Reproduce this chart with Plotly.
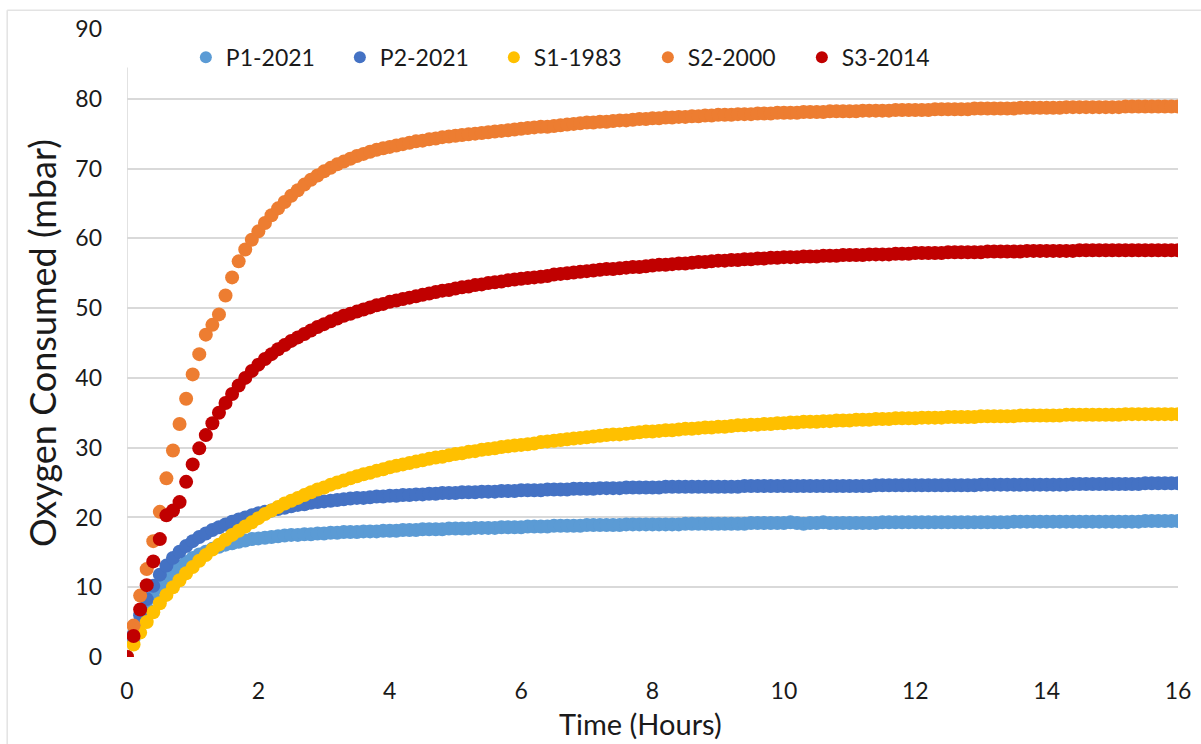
import plotly.graph_objects as go

# Time axis: one reading every 0.1 hour from 0 to 16 h
hours = [round(i * 0.1, 1) for i in range(161)]

series_names = ["P1-2021", "P2-2021", "S1-1983", "S2-2000", "S3-2014"]

p1_2021 = [
    0, 2.6, 5.0, 7.0, 8.6, 10.0, 11.1, 12.1, 12.9, 13.6,
    14.2, 14.7, 15.1, 15.5, 15.8, 16.1, 16.3, 16.5, 16.7, 16.9,
    17.0, 17.1, 17.2, 17.3, 17.4, 17.5, 17.5, 17.6, 17.6, 17.7,
    17.7, 17.8, 17.8, 17.9, 17.9, 17.9, 18.0, 18.0, 18.0, 18.1,
    18.1, 18.1, 18.2, 18.2, 18.2, 18.3, 18.3, 18.3, 18.3, 18.4,
    18.4, 18.4, 18.4, 18.5, 18.5, 18.5, 18.5, 18.6, 18.6, 18.6,
    18.6, 18.7, 18.7, 18.7, 18.7, 18.8, 18.8, 18.8, 18.8, 18.8,
    18.9, 18.9, 18.9, 18.9, 18.9, 18.9, 19.0, 19.0, 19.0, 19.0,
    19.0, 19.0, 19.0, 19.0, 19.0, 19.1, 19.1, 19.1, 19.1, 19.1,
    19.1, 19.1, 19.1, 19.1, 19.1, 19.2, 19.2, 19.2, 19.2, 19.2,
    19.2, 19.3, 19.2, 19.1, 19.2, 19.2, 19.3, 19.2, 19.2, 19.2,
    19.2, 19.2, 19.2, 19.2, 19.2, 19.3, 19.3, 19.3, 19.3, 19.3,
    19.3, 19.3, 19.3, 19.3, 19.3, 19.3, 19.3, 19.3, 19.3, 19.3,
    19.3, 19.3, 19.3, 19.3, 19.3, 19.4, 19.4, 19.4, 19.4, 19.4,
    19.4, 19.4, 19.4, 19.4, 19.4, 19.4, 19.4, 19.4, 19.4, 19.4,
    19.4, 19.4, 19.4, 19.4, 19.4, 19.5, 19.5, 19.5, 19.5, 19.5,
    19.5,
]

p2_2021 = [
    0, 3.2, 6.0, 8.3, 10.2, 11.8, 13.1, 14.2, 15.1, 15.9,
    16.6, 17.2, 17.7, 18.2, 18.6, 19.0, 19.4, 19.7, 20.0, 20.3,
    20.6, 20.8, 21.0, 21.2, 21.4, 21.6, 21.8, 21.9, 22.1, 22.2,
    22.3, 22.4, 22.5, 22.6, 22.7, 22.8, 22.8, 22.9, 23.0, 23.0,
    23.1, 23.1, 23.2, 23.2, 23.3, 23.3, 23.4, 23.4, 23.5, 23.5,
    23.5, 23.6, 23.6, 23.6, 23.7, 23.7, 23.7, 23.8, 23.8, 23.8,
    23.9, 23.9, 23.9, 23.9, 24.0, 24.0, 24.0, 24.0, 24.1, 24.1,
    24.1, 24.1, 24.2, 24.2, 24.2, 24.2, 24.3, 24.3, 24.3, 24.3,
    24.3, 24.3, 24.4, 24.4, 24.4, 24.4, 24.4, 24.4, 24.4, 24.4,
    24.4, 24.4, 24.4, 24.4, 24.5, 24.5, 24.5, 24.5, 24.5, 24.5,
    24.5, 24.5, 24.5, 24.5, 24.5, 24.5, 24.5, 24.5, 24.5, 24.5,
    24.5, 24.5, 24.5, 24.5, 24.6, 24.6, 24.6, 24.6, 24.6, 24.6,
    24.6, 24.6, 24.6, 24.6, 24.6, 24.6, 24.6, 24.6, 24.6, 24.6,
    24.7, 24.7, 24.7, 24.7, 24.7, 24.7, 24.7, 24.7, 24.7, 24.7,
    24.7, 24.7, 24.7, 24.7, 24.8, 24.8, 24.8, 24.8, 24.8, 24.8,
    24.8, 24.8, 24.8, 24.8, 24.8, 24.9, 24.9, 24.9, 24.9, 24.9,
    24.9,
]

s1_1983 = [
    0, 1.8, 3.5, 5.0, 6.4, 7.7, 8.9, 10.0, 11.0, 12.0,
    12.9, 13.8, 14.6, 15.4, 16.1, 16.8, 17.5, 18.1, 18.7, 19.3,
    19.9, 20.5, 21.0, 21.5, 22.0, 22.4, 22.8, 23.2, 23.6, 24.0,
    24.3, 24.7, 25.0, 25.3, 25.6, 25.9, 26.2, 26.4, 26.7, 26.9,
    27.2, 27.4, 27.6, 27.8, 28.0, 28.2, 28.4, 28.6, 28.7, 28.9,
    29.1, 29.2, 29.4, 29.5, 29.7, 29.8, 29.9, 30.1, 30.2, 30.3,
    30.4, 30.5, 30.6, 30.8, 30.9, 31.0, 31.1, 31.2, 31.3, 31.4,
    31.5, 31.6, 31.7, 31.8, 31.9, 31.9, 32.0, 32.1, 32.2, 32.3,
    32.3, 32.4, 32.5, 32.5, 32.6, 32.7, 32.7, 32.8, 32.9, 32.9,
    33.0, 33.0, 33.1, 33.2, 33.2, 33.3, 33.3, 33.4, 33.4, 33.5,
    33.5, 33.6, 33.6, 33.7, 33.7, 33.7, 33.8, 33.8, 33.9, 33.9,
    33.9, 34.0, 34.0, 34.0, 34.1, 34.1, 34.1, 34.2, 34.2, 34.2,
    34.2, 34.3, 34.3, 34.3, 34.3, 34.4, 34.4, 34.4, 34.4, 34.4,
    34.5, 34.5, 34.5, 34.5, 34.5, 34.5, 34.6, 34.6, 34.6, 34.6,
    34.6, 34.6, 34.6, 34.7, 34.7, 34.7, 34.7, 34.7, 34.7, 34.7,
    34.7, 34.7, 34.8, 34.8, 34.8, 34.8, 34.8, 34.8, 34.8, 34.8,
    34.8,
]

s2_2000 = [
    0, 4.5, 8.8, 12.6, 16.6, 20.8, 25.6, 29.6, 33.4, 37.0,
    40.5, 43.4, 46.2, 47.6, 49.1, 51.8, 54.4, 56.7, 58.4, 59.8,
    61.0, 62.2, 63.3, 64.3, 65.2, 66.1, 66.9, 67.7, 68.4, 69.0,
    69.6, 70.1, 70.6, 71.0, 71.4, 71.8, 72.1, 72.4, 72.7, 72.9,
    73.1, 73.3, 73.5, 73.7, 73.9, 74.0, 74.2, 74.3, 74.5, 74.6,
    74.7, 74.8, 74.9, 75.0, 75.1, 75.2, 75.3, 75.4, 75.5, 75.6,
    75.7, 75.8, 75.9, 76.0, 76.0, 76.1, 76.2, 76.3, 76.4, 76.5,
    76.6, 76.6, 76.7, 76.7, 76.8, 76.9, 76.9, 77.0, 77.1, 77.1,
    77.2, 77.2, 77.3, 77.3, 77.4, 77.4, 77.5, 77.5, 77.6, 77.6,
    77.7, 77.7, 77.7, 77.8, 77.8, 77.8, 77.9, 77.9, 77.9, 78.0,
    78.0, 78.0, 78.0, 78.1, 78.1, 78.1, 78.1, 78.2, 78.2, 78.2,
    78.2, 78.2, 78.3, 78.3, 78.3, 78.3, 78.3, 78.4, 78.4, 78.4,
    78.4, 78.4, 78.4, 78.5, 78.5, 78.5, 78.5, 78.5, 78.5, 78.6,
    78.6, 78.6, 78.6, 78.6, 78.6, 78.6, 78.7, 78.7, 78.7, 78.7,
    78.7, 78.7, 78.7, 78.8, 78.8, 78.8, 78.8, 78.8, 78.8, 78.8,
    78.8, 78.8, 78.9, 78.9, 78.9, 78.9, 78.9, 78.9, 78.9, 78.9,
    78.9,
]

s3_2014 = [
    0, 3.0, 6.8, 10.3, 13.7, 16.9, 20.3, 21.0, 22.2, 25.1,
    27.6, 29.9, 31.8, 33.5, 35.0, 36.4, 37.7, 38.9, 40.0, 41.0,
    41.9, 42.7, 43.4, 44.1, 44.7, 45.3, 45.8, 46.3, 46.8, 47.3,
    47.7, 48.1, 48.5, 48.9, 49.2, 49.5, 49.8, 50.1, 50.4, 50.6,
    50.9, 51.1, 51.3, 51.5, 51.7, 51.9, 52.1, 52.3, 52.5, 52.6,
    52.8, 53.0, 53.1, 53.3, 53.4, 53.6, 53.7, 53.8, 54.0, 54.1,
    54.2, 54.3, 54.4, 54.5, 54.6, 54.8, 54.9, 55.0, 55.1, 55.2,
    55.3, 55.4, 55.5, 55.6, 55.6, 55.7, 55.8, 55.9, 55.9, 56.0,
    56.1, 56.2, 56.2, 56.3, 56.4, 56.4, 56.5, 56.6, 56.6, 56.7,
    56.8, 56.8, 56.9, 56.9, 57.0, 57.0, 57.1, 57.1, 57.2, 57.2,
    57.3, 57.3, 57.3, 57.4, 57.4, 57.4, 57.5, 57.5, 57.5, 57.6,
    57.6, 57.6, 57.6, 57.7, 57.7, 57.7, 57.7, 57.8, 57.8, 57.8,
    57.9, 57.9, 57.9, 57.9, 57.9, 58.0, 58.0, 58.0, 58.0, 58.0,
    58.0, 58.1, 58.1, 58.1, 58.1, 58.1, 58.1, 58.2, 58.2, 58.2,
    58.2, 58.2, 58.2, 58.2, 58.2, 58.3, 58.3, 58.3, 58.3, 58.3,
    58.3, 58.3, 58.3, 58.3, 58.3, 58.3, 58.3, 58.3, 58.3, 58.3,
    58.3,
]

series_values = [p1_2021, p2_2021, s1_1983, s2_2000, s3_2014]
series_colors = ["#5B9BD5", "#4472C4", "#FFC000", "#ED7D31", "#C00000"]

x_ticks = [0, 2, 4, 6, 8, 10, 12, 14, 16]
y_ticks = [0, 10, 20, 30, 40, 50, 60, 70, 80, 90]
x_title = "Time (Hours)"
y_title = "Oxygen Consumed (mbar)"

FONT = "Lato, Carlito, Calibri, 'Open Sans', sans-serif"
TEXT = "#1a1a1a"
GRID = "#d9d9d9"

fig = go.Figure()
for name, vals, col in zip(series_names, series_values, series_colors):
    fig.add_trace(go.Scatter(
        x=hours, y=vals, name=name, mode="markers",
        marker=dict(size=14, color=col, line=dict(width=0)),
    ))

fig.update_layout(
    width=1201, height=744,
    margin=dict(l=127, r=23, t=29, b=87),
    paper_bgcolor="white", plot_bgcolor="white",
    font=dict(family=FONT, color=TEXT),
    showlegend=True,
    legend=dict(
        orientation="h", x=0.056, xanchor="left", y=0.955, yanchor="middle",
        font=dict(size=23, family=FONT, color=TEXT),
        entrywidth=109, entrywidthmode="pixels",
        itemsizing="constant", bgcolor="rgba(255,255,255,0)",
    ),
    xaxis=dict(
        range=[0, 16], tickvals=x_ticks, ticktext=[str(v) for v in x_ticks],
        showgrid=False, zeroline=False, showline=False, ticks="",
        automargin=False,
        tickfont=dict(size=23, family=FONT, color=TEXT),
        ticklabelstandoff=18,
    ),
    yaxis=dict(
        range=[0, 90], tickvals=y_ticks, ticktext=[str(v) for v in y_ticks],
        showgrid=True, gridcolor=GRID, gridwidth=1.5,
        zeroline=False, showline=False, ticks="",
        automargin=False,
        tickfont=dict(size=23, family=FONT, color=TEXT),
        ticklabelstandoff=24,
        title=dict(text=y_title, font=dict(size=36, family=FONT, color=TEXT), standoff=7),
    ),
    annotations=[
        dict(text=x_title, xref="paper", yref="paper", x=0.489, y=-0.1051,
             xanchor="center", yanchor="middle", showarrow=False,
             font=dict(size=29, family=FONT, color=TEXT)),
    ],
    shapes=[
        # left vertical axis line (stops below the legend band)
        dict(type="line", xref="x", yref="y", x0=0, x1=0, y0=0, y1=84.5,
             line=dict(color=GRID, width=1.5), layer="below"),
        # faint outer frame of the chart image
        dict(type="line", xref="paper", yref="paper", x0=-0.114, x1=1.03, y0=1.030, y1=1.030,
             line=dict(color="#e3e3e3", width=1.5)),
        dict(type="line", xref="paper", yref="paper", x0=-0.114, x1=-0.114, y0=-0.2, y1=1.030,
             line=dict(color="#e3e3e3", width=1.5)),
    ],
)

# remove the browser's default 8 px body margin so the figure fills the window
fig.write_html(
    "out.html",
    config={"displayModeBar": False},
    post_script="document.body.style.margin='0px';",
)
